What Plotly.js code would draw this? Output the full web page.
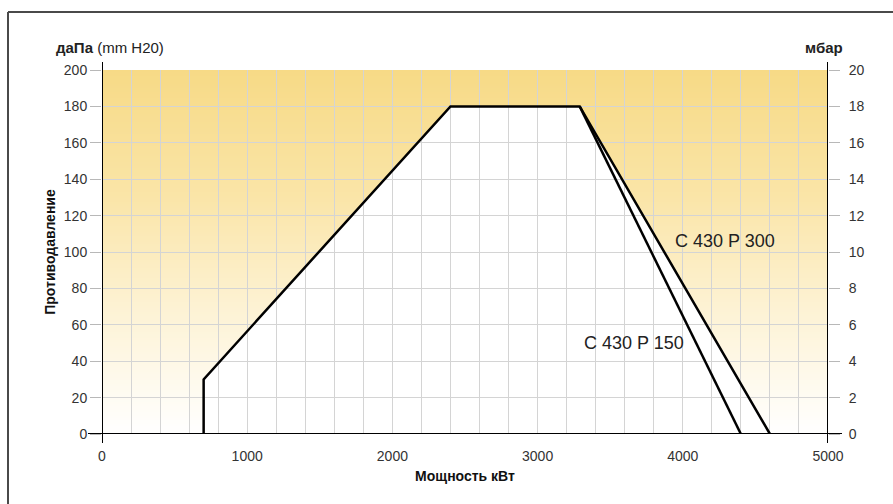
<!DOCTYPE html>
<html>
<head>
<meta charset="utf-8">
<script src="https://cdn.plot.ly/plotly-3.0.1.min.js"></script>
<style>html,body{margin:0;padding:0;background:#fff;}#chart{width:893px;height:504px;}</style>
</head>
<body>
<div id="chart"></div>
<script>
// Data
var p300X = [700, 700, 2400, 3290, 4600];
var p300Y = [0, 30, 180, 180, 0];
var p150X = [3290, 4400];
var p150Y = [180, 0];
var xTicks = [0, 1000, 2000, 3000, 4000, 5000];
var yTicks = [0, 20, 40, 60, 80, 100, 120, 140, 160, 180, 200];
var y2Ticks = [0, 2, 4, 6, 8, 10, 12, 14, 16, 18, 20];
var labelP300 = {text: 'C 430 P 300', x: 4290, y: 106};
var labelP150 = {text: 'C 430 P 150', x: 3665, y: 50};

var W = 893, H = 504, L = 102, R = 65, T = 70, B = 70;
var pw = W - L - R, ph = H - T - B;
function px2x(p){ return (p - L) / pw; }
function px2y(p){ return (H - B - p) / ph; }

// vertical gradient (top -> bottom), drawn as thin bands below gridlines
var stops = [[0, [247, 218, 134]], [0.35, [250, 229, 168]], [0.65, [253, 242, 211]], [1, [255, 255, 255]]];
function gradColor(t){
  for (var i = 1; i < stops.length; i++) {
    if (t <= stops[i][0]) {
      var a = stops[i-1], b = stops[i], f = (t - a[0]) / (b[0] - a[0]);
      var c = a[1].map(function(v, k){ return Math.round(v + (b[1][k] - v) * f); });
      return 'rgb(' + c.join(',') + ')';
    }
  }
  return 'rgb(255,255,255)';
}
var shapes = [];
var nBands = 182;
for (var i = 0; i < nBands; i++) {
  var y0 = 1 - i / nBands, y1 = 1 - (i + 1) / nBands;
  shapes.push({type: 'rect', xref: 'x domain', yref: 'y domain', x0: 0, x1: 1, y0: y1 - 0.001, y1: y0,
               fillcolor: gradColor((i + 0.5) / nBands), line: {width: 0}, layer: 'below'});
}

var polyPath = 'M ' + p300X.map(function(x, i){ return x + ',' + p300Y[i]; }).join(' L ') + ' Z';
shapes.push({type: 'path', path: polyPath, xref: 'x', yref: 'y', fillcolor: '#ffffff', line: {width: 0}, layer: 'below'});

// axis lines
shapes.push({type: 'line', xref: 'x', yref: 'y domain', x0: 0, x1: 0, y0: px2y(443), y1: px2y(62), line: {color: '#000', width: 2}, layer: 'above'});
shapes.push({type: 'line', xref: 'x', yref: 'y domain', x0: 5000, x1: 5000, y0: px2y(443), y1: px2y(62), line: {color: '#000', width: 2}, layer: 'above'});
shapes.push({type: 'line', xref: 'x domain', yref: 'y', x0: px2x(88), x1: px2x(842), y0: 0, y1: 0, line: {color: '#000', width: 2}, layer: 'above'});
// frame
shapes.push({type: 'line', xref: 'paper', yref: 'paper', x0: px2x(8), x1: px2x(900), y0: px2y(12), y1: px2y(12), line: {color: '#4a4a4a', width: 2}, layer: 'above'});
shapes.push({type: 'line', xref: 'paper', yref: 'paper', x0: px2x(8), x1: px2x(8), y0: px2y(12), y1: px2y(510), line: {color: '#4a4a4a', width: 2}, layer: 'above'});

var font = 'Liberation Sans, Arial, sans-serif';

var traces = [
  {x: p300X, y: p300Y, mode: 'lines', line: {color: '#000', width: 2.5}, hoverinfo: 'skip', showlegend: false},
  {x: p150X, y: p150Y, mode: 'lines', line: {color: '#000', width: 2.5}, hoverinfo: 'skip', showlegend: false},
  {x: [0], y: [0], yaxis: 'y2', mode: 'markers', marker: {opacity: 0}, hoverinfo: 'skip', showlegend: false}
];

var layout = {
  width: W, height: H,
  margin: {l: L, r: R, t: T, b: B},
  paper_bgcolor: '#fff',
  plot_bgcolor: 'rgba(0,0,0,0)',
  font: {family: font, size: 14, color: '#333'},
  showlegend: false,
  xaxis: {
    range: [0, 5000], tickmode: 'array', tickvals: xTicks, ticktext: xTicks.map(String),
    showgrid: true, gridcolor: '#d4d4d4', gridwidth: 1,
    minor: {dtick: 200, tick0: 0, showgrid: true, gridcolor: '#d4d4d4', gridwidth: 1},
    ticks: '', ticklabelstandoff: 12, showline: false, zeroline: false,
    fixedrange: true,
    title: {text: '<b>Мощность кВт</b>', font: {size: 14, color: '#111'}, standoff: 8}
  },
  yaxis: {
    range: [0, 200], tickmode: 'array', tickvals: yTicks,
    showgrid: true, gridcolor: '#d4d4d4', gridwidth: 1,
    ticks: 'outside', ticklen: 11, tickcolor: '#b8b8b8', tickwidth: 1,
    showline: false, zeroline: false, fixedrange: true,
    title: {text: '<b>Противодавление</b>', font: {size: 14, color: '#111'}, standoff: 4}
  },
  yaxis2: {
    range: [0, 20], overlaying: 'y', side: 'right', tickmode: 'array', tickvals: y2Ticks,
    showgrid: false, ticks: 'outside', ticklen: 11, tickcolor: '#b8b8b8', tickwidth: 1,
    ticklabelstandoff: 6,
    showline: false, zeroline: false, fixedrange: true
  },
  shapes: shapes,
  annotations: [
    {text: '<b>даПа</b> (mm H20)', xref: 'paper', yref: 'paper', x: px2x(54), y: px2y(47), xanchor: 'left', yanchor: 'middle', showarrow: false, font: {size: 15, color: '#222'}},
    {text: '<b>мбар</b>', xref: 'paper', yref: 'paper', x: px2x(824), y: px2y(47), xanchor: 'center', yanchor: 'middle', showarrow: false, font: {size: 15, color: '#222'}},
    {text: labelP300.text, xref: 'x', yref: 'y', x: labelP300.x, y: labelP300.y, showarrow: false, font: {size: 18, color: '#222'}},
    {text: labelP150.text, xref: 'x', yref: 'y', x: labelP150.x, y: labelP150.y, showarrow: false, font: {size: 18, color: '#222'}}
  ]
};

Plotly.newPlot('chart', traces, layout, {staticPlot: true, displayModeBar: false});
</script>
</body>
</html>
